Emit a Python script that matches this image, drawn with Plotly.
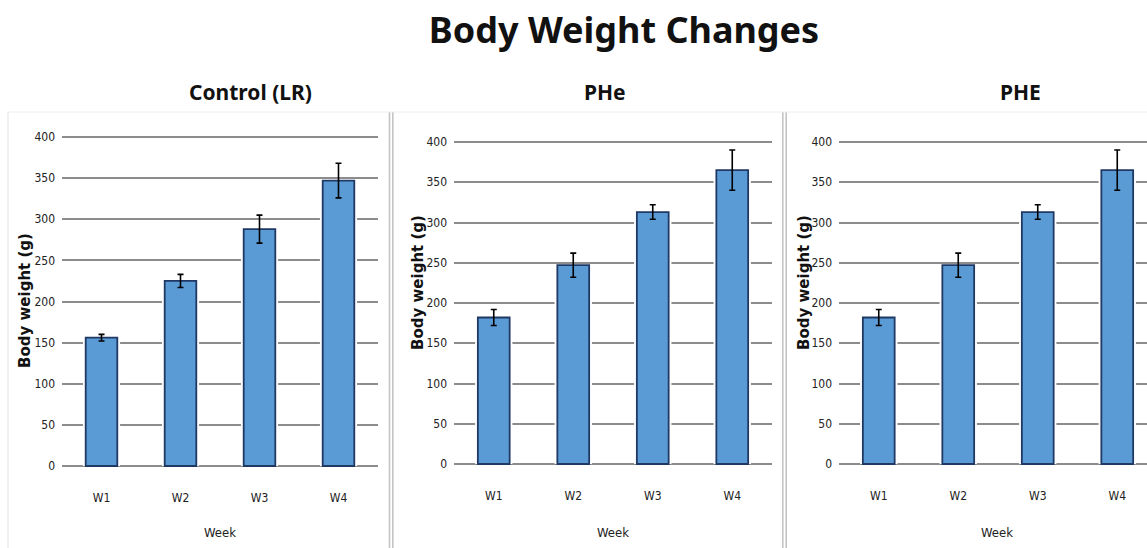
import plotly.graph_objects as go

weeks = ["W1", "W2", "W3", "W4"]
panel_titles = ["Control (LR)", "PHe", "PHE"]
control_mean = [156, 225, 288, 347]
control_err = [4, 8, 17, 21]
phe_lower_mean = [182, 247, 313, 365]
phe_lower_err = [10, 15, 9, 25]
phe_upper_mean = [182, 247, 313, 365]
phe_upper_err = [10, 15, 9, 25]
y_ticks = [0, 50, 100, 150, 200, 250, 300, 350, 400]

W, H = 1147, 548
def px(x): return x / W
def py(y): return 1 - y / H

BAR_FILL = "#5B9BD5"
BAR_LINE = "#1F3864"
GRID = "#8C8C8C"
TICKFONT = dict(family="DejaVu Sans Condensed, DejaVu Sans", size=12, color="#222222")

fig = go.Figure()

series = [(control_mean, control_err), (phe_lower_mean, phe_lower_err), (phe_upper_mean, phe_upper_err)]
# plot areas in pixels: (x0, x1, ytop(400), ybottom(0))
areas = [(62, 378, 137, 466), (454, 772, 142, 464), (839, 1157, 142, 464)]
PAD = 4

for i, ((m, e), (x0, x1, yt, yb)) in enumerate(zip(series, areas)):
    ax = "" if i == 0 else str(i + 1)
    fig.add_trace(go.Bar(x=weeks, y=m, width=0.47, marker=dict(color="white", line=dict(width=0)),
                         xaxis="x" + ax, yaxis="y" + ax, showlegend=False, hoverinfo="skip"))
    fig.add_trace(go.Bar(x=weeks, y=m, width=0.40,
                         marker=dict(color=BAR_FILL, line=dict(color=BAR_LINE, width=1.8)),
                         error_y=dict(type="data", array=e, color="black", thickness=1.6, width=3),
                         xaxis="x" + ax, yaxis="y" + ax, showlegend=False))
    x1c = min(x1, W)
    ncat_px = (x1 - x0) / 4
    xr = [-0.5, -0.5 + (x1c - x0) / ncat_px]
    s = (yb - yt) / 400.0
    pad_u = PAD / s
    fig.layout["xaxis" + ax] = dict(domain=[px(x0), px(x1c)], range=xr, type="category",
                                     anchor="y" + ax, showgrid=False, zeroline=False, showline=False,
                                     ticks="", tickfont=TICKFONT, ticklabelstandoff=19, automargin=False)
    fig.layout["yaxis" + ax] = dict(domain=[py(yb + PAD), py(yt - PAD)], range=[-pad_u, 400 + pad_u],
                                     tickvals=y_ticks,
                                     anchor="x" + ax, showgrid=True, gridcolor=GRID, gridwidth=1.8,
                                     zeroline=True, zerolinecolor=GRID, zerolinewidth=1.8,
                                     showline=False, ticks="", tickfont=TICKFONT,
                                     ticklabelstandoff=6, automargin=False)

annotations = []
title_font = dict(family="Noto Sans, Open Sans, sans-serif", size=21, color="#111111")
for t, xc in zip(panel_titles, [250, 605, 1020]):
    annotations.append(dict(text="<b>" + t + "</b>", x=px(xc), y=py(92), xref="paper", yref="paper",
                            showarrow=False, font=title_font, xanchor="center", yanchor="middle"))
for xc, yc in [(25, 301), (418, 283), (804, 283)]:
    annotations.append(dict(text="<b>Body weight (g)</b>", x=px(xc), y=py(yc), xref="paper", yref="paper",
                            textangle=-90, showarrow=False,
                            font=dict(family="DejaVu Sans, Verdana", size=15, color="#111111"),
                            xanchor="center", yanchor="middle"))
for xc in [220, 613, 997]:
    annotations.append(dict(text="Week", x=px(xc), y=py(532), xref="paper", yref="paper",
                            showarrow=False, font=dict(TICKFONT, size=13), xanchor="center", yanchor="middle"))

shapes = []
for xs in [389.5, 392.8, 782.8, 786.2]:
    shapes.append(dict(type="line", xref="paper", yref="paper", x0=px(xs), x1=px(xs), y0=0, y1=py(112),
                       line=dict(color="#C4C4C4", width=1.6)))
shapes.append(dict(type="line", xref="paper", yref="paper", x0=px(8), x1=px(8), y0=0, y1=py(112),
                   line=dict(color="#E2E2E2", width=1)))
shapes.append(dict(type="line", xref="paper", yref="paper", x0=px(8), x1=1, y0=py(112), y1=py(112),
                   line=dict(color="#EEEEEE", width=1)))

fig.update_layout(
    width=W, height=H, margin=dict(l=0, r=0, t=0, b=0, autoexpand=False),
    paper_bgcolor="white", plot_bgcolor="white", barmode="overlay",
    title=dict(text="<b>Body Weight Changes</b>", x=px(624), y=py(30), xanchor="center", yanchor="middle",
               font=dict(family="Noto Sans, Open Sans, sans-serif", size=36, color="#111111")),
    annotations=annotations, shapes=shapes,
)

fig.write_html("out.html", config={"displayModeBar": False},
               post_script="document.body.style.margin='0';document.body.style.overflow='hidden';")
